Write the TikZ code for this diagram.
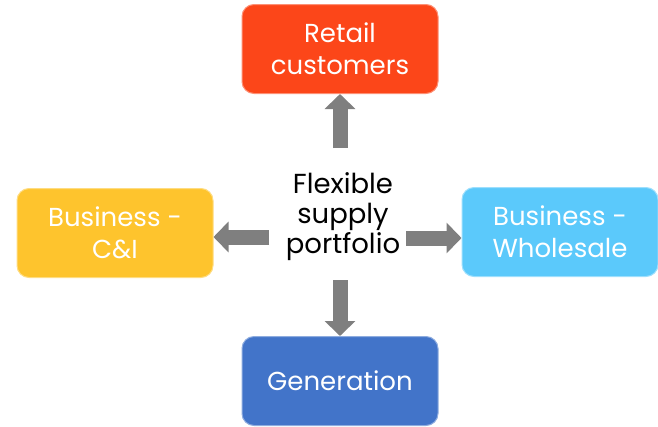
\documentclass[tikz,border=0pt]{standalone}
\usepackage{fontspec}
\setmainfont{Poppins}
\usetikzlibrary{arrows.meta}
\definecolor{cred}{HTML}{FC4619}
\definecolor{cyel}{HTML}{FEC42D}
\definecolor{clblue}{HTML}{5BC9FB}
\definecolor{cblue}{HTML}{4274C9}
\definecolor{cgray}{HTML}{7F7F7F}
\tikzset{
  box/.style={rounded corners=12pt, minimum width=196pt, minimum height=89pt,
    inner sep=0pt, align=center, text=white, line width=1pt,
    font=\fontsize{26}{32}\selectfont},
  arr/.style={cgray, line width=15pt, -{Triangle[width=30pt,length=15pt]}},
}
\begin{document}
\begin{tikzpicture}[x=1pt,y=-1pt]
\useasboundingbox (0,0) rectangle (658,426);
\node[box, fill=cred, draw=cred!60!white] (ret) at (340,49) {Retail\\customers};
\node[box, fill=cyel, draw=cyel!60!white] (cni) at (115,233) {Business -\\C\&I};
\node[box, fill=clblue, draw=clblue!60!white] (whl) at (560,232) {Business -\\Wholesale};
\node[box, fill=cblue, draw=cblue!60!white] (gen) at (340,381) {Generation};
\node[align=center, inner sep=0pt, font=\fontsize{27.5}{30}\selectfont] (ctr) at (343,217) {Flexible\\supply\\portfolio};
\coordinate (tu) at (340,148);
\coordinate (tl) at (269,237);
\coordinate (tr) at (406,238);
\coordinate (td) at (340,280);
\draw[arr] (tu) -- (ret.south);
\draw[arr] (tl) -- (tl -| cni.east);
\draw[arr] (tr) -- (tr -| whl.west);
\draw[arr] (td) -- (gen.north);
\end{tikzpicture}
\end{document}
